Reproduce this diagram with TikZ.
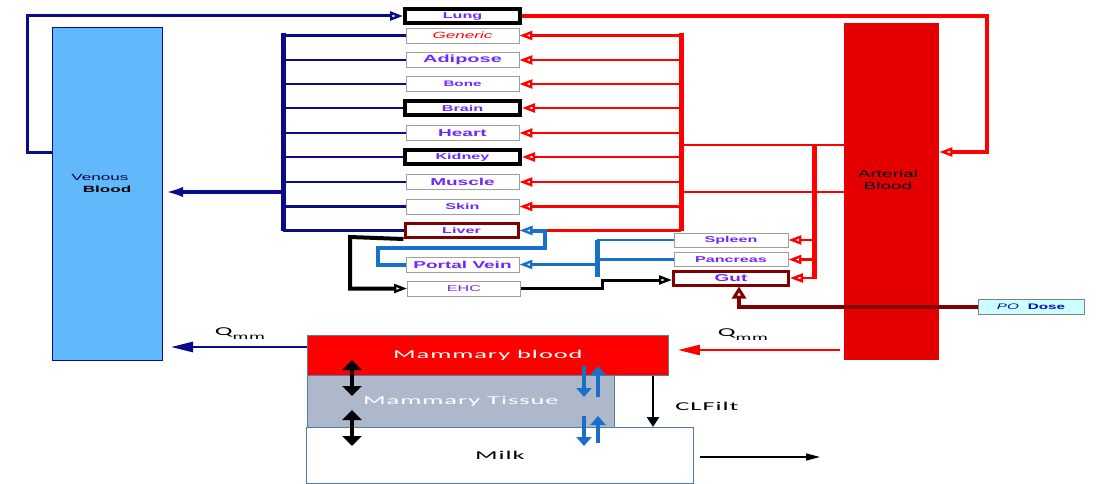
\documentclass[tikz,border=0pt]{standalone}
\usepackage{fontspec}
\setmainfont{Liberation Sans}
\newfontfamily\wf[FakeStretch=1.9]{Liberation Sans}
\newfontfamily\mf[FakeStretch=2.2,LetterSpace=8]{Carlito}
\usetikzlibrary{arrows.meta,calc}
\definecolor{navyc}{RGB}{10,10,140}
\definecolor{vfill}{RGB}{97,184,250}
\definecolor{afill}{RGB}{228,0,0}
\definecolor{redc}{RGB}{255,0,0}
\definecolor{bluec}{RGB}{24,112,200}
\definecolor{maroonc}{RGB}{128,0,0}
\definecolor{ptext}{RGB}{110,40,255}
\definecolor{mtis}{RGB}{173,185,202}
\definecolor{mbord}{RGB}{80,125,170}
\definecolor{pofill}{RGB}{204,255,255}
\begin{document}
\begin{tikzpicture}[x=1pt,y=-1pt,
  organ/.style={draw=gray!75, line width=0.9pt, fill=white, minimum width=113pt,
    minimum height=15pt, inner sep=0pt, text=ptext},
  blackbox/.style={organ, draw=black, line width=4pt, minimum width=115pt, minimum height=14pt},
  liverbox/.style={organ, draw=maroonc, line width=3pt, minimum width=113pt, minimum height=14pt},
  fb/.style={font=\wf\fontsize{#1}{#1}\selectfont\bfseries},
  fr/.style={font=\wf\fontsize{#1}{#1}\selectfont},
  oarr/.style={-{Triangle[open,length=13pt,width=9pt,line width=2.4pt]}},
  navyl/.style={draw=navyc, line width=2.5pt},
  redl/.style={draw=redc, line width=2.5pt},
  bluel/.style={draw=bluec, line width=2.5pt},
  mtext/.style={font=\mf\fontsize{12}{12}\selectfont},
  dbl/.style={line width=4.5pt, {Triangle[length=10pt,width=19pt]}-{Triangle[length=10pt,width=19pt]}},
  barr/.style={draw=bluec, line width=4pt, -{Triangle[length=9pt,width=15pt]}}
]
\useasboundingbox (0,0) rectangle (1101,484);

% blood pools
\node[draw=navyc, line width=1pt, fill=vfill, minimum width=110pt, minimum height=333pt,
  inner sep=0pt, anchor=north west] (venous) at (52,27) {};
\node[fr=9, text=black!75!blue] (vt1) at (100,177) {Venous};
\node[fb=9] (vt2) at (107,189) {Blood};
\node[fill=afill, minimum width=95pt, minimum height=337pt, inner sep=0pt,
  anchor=north west] (arterial) at (844,23) {};
\node[fr=10] (at1) at (888,174) {Arterial};
\node[fr=10] (at2) at (888,186) {Blood};

% organs
\node[blackbox, fb=8.5] (lung) at (462.5,16) {Lung};
\node[organ, font=\wf\fontsize{9}{9}\selectfont\itshape, text=redc] (generic) at (462.5,35.5) {Generic};
\node[organ, fb=10.5] (adipose) at (462.5,60) {Adipose};
\node[organ, fb=8] (bone) at (462.5,84) {Bone};
\node[blackbox, fb=8.5] (brain) at (462.5,108) {Brain};
\node[organ, fb=10] (heart) at (462.5,133) {Heart};
\node[blackbox, fb=8.5] (kidney) at (462.5,157) {Kidney};
\node[organ, fb=10] (muscle) at (462.5,182) {Muscle};
\node[organ, fb=8.5] (skin) at (462.5,206.5) {Skin};
\node[liverbox, fb=8.5] (liver) at (461.5,230.5) {Liver};
\node[organ, fb=10] (portal) at (462.5,264.5) {Portal Vein};
\node[organ, fr=8.5] (ehc) at (464,288.5) {EHC};
\node[organ, fb=8.5, minimum width=114pt, minimum height=14pt] (spleen) at (731,240) {Spleen};
\node[organ, fb=8.5, minimum width=114pt, minimum height=14pt] (pancreas) at (731,259.5) {Pancreas};
\node[liverbox, fb=10, minimum width=115pt] (gut) at (731,278) {Gut};
\node[organ, draw=gray, fill=pofill, minimum width=106pt, text=navyc!60!blue] (po) at (1031,306.5)
  {{\wf\fontsize{8}{8}\selectfont\itshape PO}\hspace{9pt}{\wf\fontsize{8}{8}\selectfont\bfseries Dose}};

% venous side bus
\coordinate (nb1) at (283,33);
\coordinate (nb2) at (283,231);
\coordinate (nbv) at (283,192);
\draw[navyc, line width=5pt] (nb1) -- (nb2);
\foreach \o in {generic,adipose,bone,brain,heart,kidney,muscle,skin,liver}
  \draw[navyl] (\o.west) -- (\o.west -| nb1);
\draw[navyc, line width=4pt, -{Latex[length=20pt,width=10pt]}] (nbv) -- (nbv -| venous.east);
\coordinate (vl1) at (27,153);
\draw[navyc, line width=3pt, oarr] (vl1 -| venous.west) -- (vl1) |- (lung.west);

% arterial side bus
\coordinate (rb1) at (681,33);
\coordinate (rb2) at (681,231);
\coordinate (ra1) at (681,145);
\coordinate (ra2) at (681,192);
\draw[redc, line width=5pt] (rb1) -- (rb2);
\foreach \o in {generic,adipose,bone,brain,heart,kidney,muscle,skin}
  \draw[redl, oarr] (\o.east -| rb1) -- (\o.east);
\draw[redl] (ra1 -| arterial.west) -- (ra1);
\draw[redl] (ra2 -| arterial.west) -- (ra2);
\coordinate (sb1) at (814,145);
\coordinate (sb2) at (814,279);
\draw[redc, line width=5pt] (sb1) -- (sb2);
\foreach \o in {spleen,pancreas,gut}
  \draw[redl, oarr] (\o.east -| sb1) -- (\o.east);
\coordinate (lr) at (987,152);
\draw[redc, line width=3.5pt, oarr] (lung.east) -| (lr) -- (lr -| arterial.east);

% portal system
\coordinate (pl1) at (378,248);
\coordinate (pl2) at (545,248);
\draw[redl] (liver.east -| rb1) -- (liver.east -| pl2);
\draw[bluec, line width=4pt, oarr] (portal.west) -| (pl1) -- (pl2) |- (liver.east);
\coordinate (bb1) at (597,240);
\coordinate (bb2) at (597,277);
\coordinate (bp) at (597,264.5);
\draw[bluec, line width=5pt] (bb1) -- (bb2);
\draw[bluel] (spleen.west) -- (spleen.west -| bb1);
\draw[bluel] (pancreas.west) -- (pancreas.west -| bb1);
\draw[bluel] ($(gut.west)+(0,-1.5)$) -- ($(gut.west)+(0,-1.5)$ -| bb1);
\draw[bluel, oarr] (bp) -- (bp -| portal.east);

% enterohepatic
\coordinate (bl1) at (350,237);
\draw[black, line width=4pt, oarr] (liver.south west) -- (bl1) |- (ehc.west);
\coordinate (eg) at (602,280);
\draw[black, line width=3pt, oarr] (ehc.east) -| (eg) -- (eg -| gut.west);

% PO dose
\coordinate (po1) at (739,306.5);
\draw[maroonc, line width=4pt, -{Triangle[open,length=12pt,width=14pt,line width=3pt]}] (po.west) -- (po1) -- (po1 |- gut.south);

% mammary
\node[draw=mbord, line width=0.8pt, fill=white, minimum width=387pt, minimum height=56pt,
  inner sep=0pt, anchor=north west, mtext, text=black] (milk) at (306,427) {Milk};
\node[draw=mbord, line width=0.8pt, fill=mtis, minimum width=307pt, minimum height=52pt,
  inner sep=0pt, anchor=north west, mtext, text=white] (tissue) at (307,375) {Mammary Tissue};
\node[draw=mbord, line width=0.8pt, fill=redc, minimum width=361pt, minimum height=40pt,
  inner sep=0pt, anchor=north west, mtext, text=white] (mblood) at (307,335) {Mammary blood};

\coordinate (d1a) at (352,360); \coordinate (d1b) at (352,396);
\coordinate (d2a) at (352,410); \coordinate (d2b) at (352,446);
\draw[dbl] (d1a) -- (d1b);
\draw[dbl] (d2a) -- (d2b);
\coordinate (u1a) at (584,366); \coordinate (u1b) at (584,397);
\coordinate (u2a) at (598,397); \coordinate (u2b) at (598,366);
\draw[barr] (u1a) -- (u1b);
\draw[barr] (u2a) -- (u2b);
\coordinate (u3a) at (584,416); \coordinate (u3b) at (584,446);
\coordinate (u4a) at (598,443); \coordinate (u4b) at (598,416);
\draw[barr] (u3a) -- (u3b);
\draw[barr] (u4a) -- (u4b);

\coordinate (cf) at (653,400);
\draw[line width=2.5pt, -{Triangle[length=10pt,width=12pt]}] (cf |- mblood.south) -- (cf |- milk.north);
\node[mtext] (clf) at (707,406) {CLFilt};
\coordinate (mo1) at (700,457); \coordinate (mo2) at (820,457);
\draw[line width=1.3pt, -{Triangle[length=14pt,width=7pt]}] (mo1) -- (mo2);

\coordinate (qa) at (240,347);
\draw[navyc, line width=2.5pt, -{Triangle[length=22pt,width=10pt]}, shorten >=8pt] (qa -| mblood.west) -- (qa -| venous.east);
\node[mtext] (q1) at (240,334) {Q\raisebox{-4pt}{\fontsize{9}{9}\selectfont mm}};
\coordinate (qb) at (760,350);
\draw[redc, line width=2.5pt, -{Triangle[length=22pt,width=10pt]}, shorten <=4pt, shorten >=9pt] (qb -| arterial.west) -- (qb -| mblood.east);
\node[mtext] (q2) at (743,335) {Q\raisebox{-4pt}{\fontsize{9}{9}\selectfont mm}};
\end{tikzpicture}
\end{document}
